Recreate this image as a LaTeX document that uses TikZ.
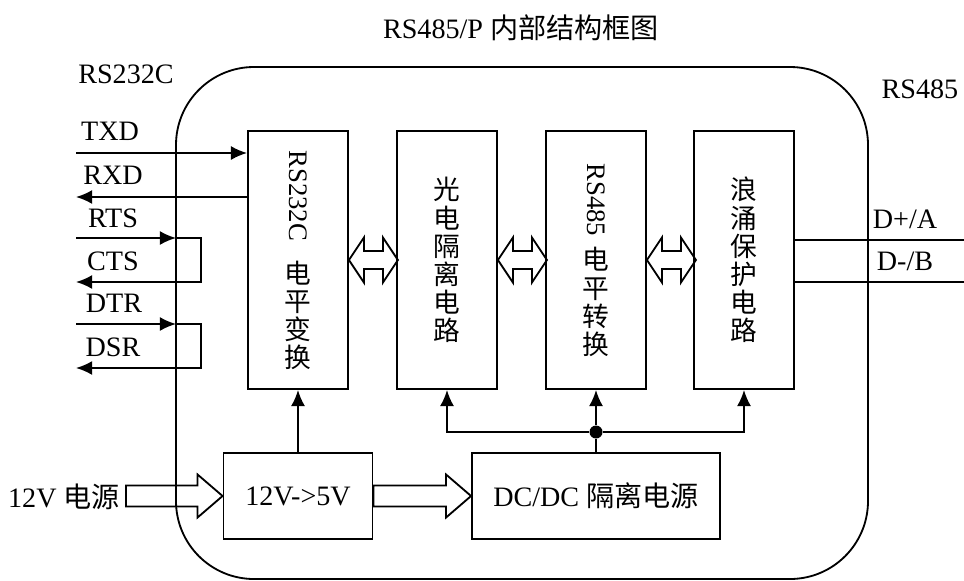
\documentclass[tikz,border=0pt]{standalone}
\usepackage{fontspec}
\setmainfont{Liberation Serif}
\newfontfamily\cjk{Noto Sans CJK SC}
\usetikzlibrary{positioning,arrows.meta,calc}

\newcommand{\zhfont}{\cjk\fontsize{19}{20}\selectfont}
% hollow arrow from #1 to the tip #2
\newcommand{\bigarrow}[2]{%
  \draw ($(#1)+(0,-10.5)$) -- ($(#2)+(-25,-10.5)$) -- ($(#2)+(-25,-21.5)$) -- (#2)
    -- ($(#2)+(-25,21.5)$) -- ($(#2)+(-25,10.5)$) -- ($(#1)+(0,10.5)$) -- cycle;}

\tikzset{dblarrow/.pic={
  \draw (0,0) -- (15,-22.5) -- (15,-9) -- (34,-9) -- (34,-22.5) -- (49,0)
    -- (34,22.5) -- (34,9) -- (15,9) -- (15,22.5) -- cycle;}}

\begin{document}
\begin{tikzpicture}[x=0.025cm,y=-0.025cm,line width=1.3pt,
  >={Latex[length=11.5pt,width=10pt]},
  font=\fontsize{20}{21}\selectfont,
  block/.style={draw,minimum width=2.5cm,minimum height=6.45cm,align=center,inner sep=0pt,font=\zhfont},
  pbox/.style={draw,minimum height=2.15cm,inner sep=0pt},
  dot/.style={circle,fill,inner sep=0pt,minimum size=13*0.025cm}]

\useasboundingbox (0,0) rectangle (964,580);

% housing
\draw[rounded corners=1.95cm] (176,67) rectangle (868,579);

\node (title) at (521,28) {RS485/P {\cjk 内部结构框图}};
\node (rs232) at (126,74) {RS232C};
\node (rs485) at (920,89) {RS485};

% main blocks
\node[block] (b1) at (298,260) {\rotatebox{-90}{\rmfamily RS232C}\\[13pt]电\\平\\变\\换};
\node[block] (b2) at (447,260) {光\\电\\隔\\离\\电\\路};
\node[block] (b3) at (596,260) {\rotatebox{-90}{\rmfamily RS485}\\[7pt]电\\平\\转\\换};
\node[block] (b4) at (744,260) {浪\\涌\\保\\护\\电\\路};

\pic at (b1.east) {dblarrow};
\pic at (b2.east) {dblarrow};
\pic at (b3.east) {dblarrow};

% power
\node[pbox,minimum width=3.725cm] (conv) at (298,496) {12V->5V};
\node[pbox,minimum width=6.2cm] (dcdc) at (596,496) {DC/DC {\cjk 隔离电源}};
\node (pwr) at (64,497) {12V {\cjk 电源}};
\coordinate (pwrin) at (126,496);
\bigarrow{pwrin}{conv.west}
\bigarrow{conv.east}{dcdc.west}

\draw[->] (conv) -- (b1);
\node[dot] (jn) at (596,432) {};
\draw (dcdc) -- (jn);
\draw[->] (jn) -- (b3);
\draw[->] (jn) -| (b2);
\draw[->] (jn) -| (b4);

% RS232C side
\coordinate (txd) at (76,153);
\coordinate (rxd) at (76,197);
\coordinate (rts) at (76,238);
\coordinate (cts) at (76,282);
\coordinate (dtr) at (76,324);
\coordinate (dsr) at (76,368);
\coordinate (rtsend) at (176,238);
\coordinate (dtrend) at (176,324);

\node (ltxd) at (110,131) {TXD};
\node (lrxd) at (113,175) {RXD};
\node (lrts) at (113,218) {RTS};
\node (lcts) at (113,261) {CTS};
\node (ldtr) at (114,303) {DTR};
\node (ldsr) at (113,347) {DSR};

\draw[->] (txd) -- (txd -| b1.west);
\draw[<-] (rxd) -- (rxd -| b1.west);
\draw[->] (rts) -- (rtsend);
\draw[->] (rtsend) -- ++(25,0) |- (cts);
\draw[->] (dtr) -- (dtrend);
\draw[->] (dtrend) -- ++(25,0) |- (dsr);

% RS485 side
\coordinate (da) at (964,240);
\coordinate (db) at (964,282);
\draw (b4.east |- da) -- (da);
\draw (b4.east |- db) -- (db);
\node (lda) at (905,219) {D+/A};
\node (ldb) at (905,261) {D-/B};

\end{tikzpicture}
\end{document}
